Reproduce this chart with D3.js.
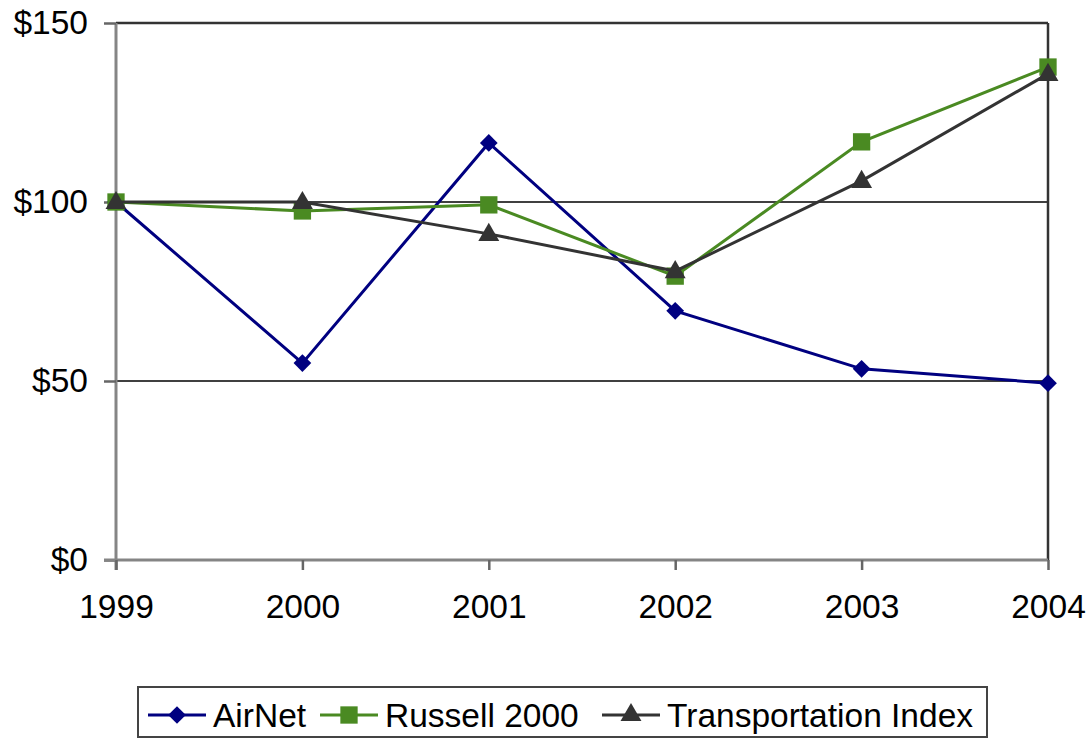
<!DOCTYPE html>
<html>
<head>
<meta charset="utf-8">
<script src="https://cdn.jsdelivr.net/npm/d3@7"></script>
<style>
  body { margin: 0; background: #fff; }
  text { font-family: "Liberation Sans", Arial, sans-serif; }
</style>
</head>
<body>
<svg id="chart"></svg>
<script>
// values
const years = ["1999", "2000", "2001", "2002", "2003", "2004"];
const airNet = [100, 55.0, 116.5, 69.6, 53.4, 49.4];
const russell = [100, 97.5, 99.2, 79.3, 116.8, 137.7];
const transport = [100, 100, 91.1, 80.7, 105.9, 135.8];
const yTicks = [0, 50, 100, 150];

var size = { width: 1092, height: 739 };
var plot = { left: 116, right: 1048, top: 23, bottom: 560 };

var svg = d3.select("#chart")
    .attr("width", size.width)
    .attr("height", size.height);

var x = d3.scalePoint()
    .domain(years)
    .range([plot.left, plot.right]);

var y = d3.scaleLinear()
    .domain([0, 150])
    .range([plot.bottom, plot.top]);

// gridlines
svg.append("g")
    .selectAll("line")
    .data(yTicks.filter(d => d > 0))
    .enter()
    .append("line")
    .attr("x1", plot.left)
    .attr("x2", plot.right)
    .attr("y1", d => y(d))
    .attr("y2", d => y(d))
    .attr("stroke", d => d == 150 ? "#333" : "#000")
    .attr("stroke-width", d => d == 150 ? 2.5 : 1.5);

// right border
svg.append("line")
    .attr("x1", plot.right).attr("x2", plot.right)
    .attr("y1", y(150)).attr("y2", plot.bottom)
    .attr("stroke", "#333")
    .attr("stroke-width", 2.5);

// y axis
var yAxis = svg.append("g")
    .attr("transform", "translate(" + plot.left + ",0)")
    .call(d3.axisLeft(y).tickValues(yTicks).tickFormat(d => "$" + d).tickSize(12).tickPadding(16));
yAxis.select(".domain").attr("stroke", "#858585").attr("stroke-width", 3)
    .attr("d", "M0," + (plot.bottom + 10) + "V" + y(150));
yAxis.selectAll(".tick line").attr("stroke", "#666").attr("stroke-width", 2.5);
yAxis.selectAll(".tick text")
    .attr("font-size", 33.5)
    .attr("fill", "#000")
    .attr("font-family", "Liberation Sans, Arial, sans-serif");

// x axis
var xAxis = svg.append("g")
    .attr("transform", "translate(0," + plot.bottom + ")")
    .call(d3.axisBottom(x).tickSize(10).tickPadding(24));
xAxis.select(".domain").attr("stroke", "#858585").attr("stroke-width", 3)
    .attr("d", "M" + (plot.left - 12) + ",0H" + plot.right);
xAxis.selectAll(".tick line").attr("stroke", "#666").attr("stroke-width", 2.5);
xAxis.selectAll(".tick text")
    .attr("font-size", 33.5)
    .attr("fill", "#000")
    .attr("font-family", "Liberation Sans, Arial, sans-serif");

var series = [
    { name: "AirNet", values: airNet, color: "#000080", shape: d3.symbolDiamond2, size: 200 },
    { name: "Russell 2000", values: russell, color: "#4a8a22", shape: d3.symbolSquare, size: 300 },
    { name: "Transportation Index", values: transport, color: "#333333", shape: d3.symbolTriangle, size: 190 }
];

var line = d3.line()
    .x((d, i) => x(years[i]))
    .y(d => y(d));

series.forEach(s => {
    svg.append("path")
        .attr("d", line(s.values))
        .attr("fill", "none")
        .attr("stroke", s.color)
        .attr("stroke-width", 3);

    svg.append("g")
        .selectAll("path")
        .data(s.values)
        .enter()
        .append("path")
        .attr("d", d3.symbol().type(s.shape).size(s.size))
        .attr("transform", (d, i) => "translate(" + x(years[i]) + "," + (y(d) + (s.shape == d3.symbolTriangle ? 1 : 0)) + ")")
        .attr("fill", s.color);
});

// legend
var legend = svg.append("g");
legend.append("rect")
    .attr("x", 138).attr("y", 687)
    .attr("width", 849).attr("height", 50)
    .attr("fill", "#fff")
    .attr("stroke", "#444")
    .attr("stroke-width", 2);

var legendX = [148, 320, 602];
series.forEach((s, i) => {
    var lx = legendX[i];
    legend.append("line")
        .attr("x1", lx).attr("x2", lx + 58)
        .attr("y1", 715).attr("y2", 715)
        .attr("stroke", s.color)
        .attr("stroke-width", 3);
    legend.append("path")
        .attr("d", d3.symbol().type(s.shape).size(s.size))
        .attr("transform", "translate(" + (lx + 29) + "," + 715 + ")")
        .attr("fill", s.color);
    legend.append("text")
        .attr("x", lx + 65)
        .attr("y", 727)
        .attr("font-size", 33.5)
        .attr("fill", "#000")
        .text(s.name);
});
</script>
</body>
</html>
